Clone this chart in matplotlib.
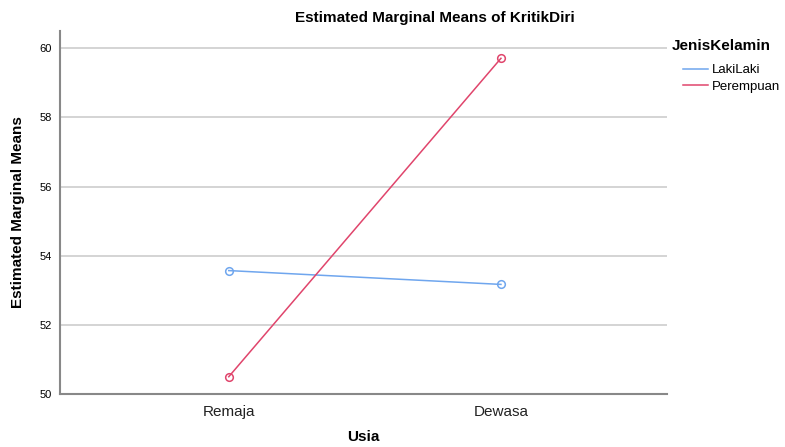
import matplotlib
matplotlib.use("Agg")
import matplotlib.pyplot as plt
from matplotlib.lines import Line2D

plt.rcParams['font.family'] = ['Liberation Sans', 'DejaVu Sans']

categories = ["Remaja", "Dewasa"]
laki = [53.57, 53.17]
perempuan = [50.50, 59.71]
yticks = [50, 52, 54, 56, 58, 60]

blue = "#6fa6ee"
red = "#e0456c"

fig = plt.figure(figsize=(7.85, 4.47), dpi=100)
ax = fig.add_axes([60/785, 1-394/447, (667-60)/785, (394-31)/447])

for y in yticks[1:]:
    ax.axhline(y, color="#d4d4d4", lw=1.4, zorder=0)

x = list(range(len(categories)))
ax.plot(x, laki, color=blue, lw=1.1, marker='o', ms=5.5, mfc='none', mec=blue, mew=1.1)
ax.plot(x, perempuan, color=red, lw=1.1, marker='o', ms=5.5, mfc='none', mec=red, mew=1.1)

ax.set_xlim(-0.62, 1.61)
ax.set_ylim(50, 60.5)
ax.set_yticks(yticks)
ax.set_xticks(x)
ax.set_xticklabels(categories, fontsize=11, color="#222222")
ax.tick_params(axis='y', labelsize=8, length=0, pad=6)
ax.tick_params(axis='x', length=0, pad=8)
for s in ['top', 'right']:
    ax.spines[s].set_visible(False)
for s in ['left', 'bottom']:
    ax.spines[s].set_color("#888888")
    ax.spines[s].set_linewidth(1.5)

fig.text(363/785, 1-437/447, "Usia", ha='center', va='center', fontsize=11, fontweight='bold')
fig.text(18/785, 1-212/447, "Estimated Marginal Means", ha='center', va='center',
         rotation=90, fontsize=11, fontweight='bold')
fig.text(435/785, 1-18/447, "Estimated Marginal Means of KritikDiri", ha='center', va='center',
         fontsize=11, fontweight='bold')

handles = [Line2D([], [], color=blue, lw=1.1), Line2D([], [], color=red, lw=1.1)]
leg = fig.legend(handles, ["LakiLaki", "Perempuan"], loc='upper left',
                 bbox_to_anchor=(672/785, 1-39/447), frameon=False, fontsize=9.5,
                 title="JenisKelamin", title_fontproperties={'weight': 'bold', 'size': 11},
                 handlelength=1.9, handletextpad=0.3, labelspacing=0.35, borderaxespad=0,
                 borderpad=0)
leg._legend_box.align = "left"
leg._legend_box.sep = 8
# indent the entries a little, as in the reference
leg._legend_handle_box.set_offset = leg._legend_handle_box.set_offset
for child in leg._legend_handle_box.get_children():
    child.sep = 3
leg._legend_handle_box.align = "baseline"
from matplotlib.offsetbox import HPacker, DrawingArea
box = leg._legend_box
box._children = [box._children[0], HPacker(children=[DrawingArea(8, 1), leg._legend_handle_box], pad=0, sep=0)]

fig.savefig("out.png", dpi=100)
